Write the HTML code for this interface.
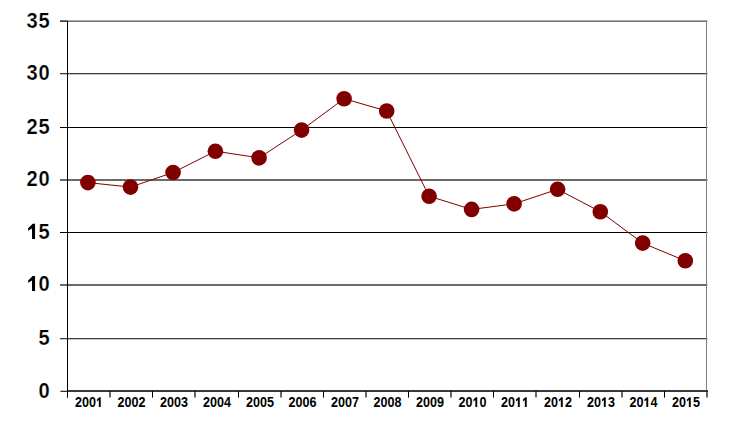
<!DOCTYPE html>
<html><head><meta charset="utf-8"><style>
html,body{margin:0;padding:0;background:#fff;}
body{width:735px;height:425px;overflow:hidden;position:relative;}
svg{position:absolute;left:0;top:0;}
text{font-family:"Liberation Sans",sans-serif;font-weight:bold;fill:#000;}
.yl{font-size:21.9px;stroke:#fff;stroke-width:0.25px;}
.xl{font-size:14px;}
.g1{fill:#000;}
</style></head><body>
<svg width="735" height="425" viewBox="0 0 735 425">
<rect x="60" y="73" width="646" height="1" fill="#3c3c3c"/>
<rect x="707" y="73" width="1" height="1" fill="#b1b1b1"/>
<rect x="60" y="74" width="646" height="1" fill="#c8c8c8"/>
<rect x="707" y="74" width="1" height="1" fill="#e9e9e9"/>
<rect x="60" y="127" width="646" height="1" fill="#000000"/>
<rect x="707" y="127" width="1" height="1" fill="#999999"/>
<rect x="60" y="179" width="646" height="1" fill="#6a6a6a"/>
<rect x="707" y="179" width="1" height="1" fill="#c4c4c4"/>
<rect x="60" y="180" width="646" height="1" fill="#6a6a6a"/>
<rect x="707" y="180" width="1" height="1" fill="#c4c4c4"/>
<rect x="60" y="232" width="646" height="1" fill="#000000"/>
<rect x="707" y="232" width="1" height="1" fill="#999999"/>
<rect x="60" y="284" width="646" height="1" fill="#6a6a6a"/>
<rect x="707" y="284" width="1" height="1" fill="#c4c4c4"/>
<rect x="60" y="285" width="646" height="1" fill="#6a6a6a"/>
<rect x="707" y="285" width="1" height="1" fill="#c4c4c4"/>
<rect x="60" y="338" width="646" height="1" fill="#3c3c3c"/>
<rect x="707" y="338" width="1" height="1" fill="#b1b1b1"/>
<rect x="60" y="339" width="646" height="1" fill="#c8c8c8"/>
<rect x="707" y="339" width="1" height="1" fill="#e9e9e9"/>
<rect x="60" y="20" width="7.5" height="1" fill="#787878"/>
<rect x="60" y="21" width="7.5" height="1" fill="#3c3c3c"/>
<rect x="67.5" y="20" width="639.5" height="1" fill="#a8a8a8"/>
<rect x="67.5" y="21" width="639.5" height="1" fill="#787878"/>
<rect x="707" y="20" width="1" height="2" fill="#d7d7d7"/>
<rect x="706" y="22" width="1" height="369.0" fill="#808080"/>
<rect x="67" y="390" width="640.8" height="2" fill="#383838"/>
<rect x="60.4" y="390" width="6.6" height="1" fill="#bebebe"/>
<rect x="60.4" y="391" width="6.6" height="1" fill="#323232"/>
<line x1="110" y1="391.0" x2="110" y2="397.6" stroke="#000" stroke-width="1.17"/>
<line x1="152.5" y1="391.0" x2="152.5" y2="397.6" stroke="#000" stroke-width="1.0"/>
<line x1="195" y1="391.0" x2="195" y2="397.6" stroke="#000" stroke-width="1.17"/>
<line x1="238.5" y1="391.0" x2="238.5" y2="397.6" stroke="#000" stroke-width="1.0"/>
<line x1="281" y1="391.0" x2="281" y2="397.6" stroke="#000" stroke-width="1.17"/>
<line x1="323.5" y1="391.0" x2="323.5" y2="397.6" stroke="#000" stroke-width="1.0"/>
<line x1="366" y1="391.0" x2="366" y2="397.6" stroke="#000" stroke-width="1.17"/>
<line x1="408.5" y1="391.0" x2="408.5" y2="397.6" stroke="#000" stroke-width="1.0"/>
<line x1="451" y1="391.0" x2="451" y2="397.6" stroke="#000" stroke-width="1.17"/>
<line x1="493.5" y1="391.0" x2="493.5" y2="397.6" stroke="#000" stroke-width="1.0"/>
<line x1="536" y1="391.0" x2="536" y2="397.6" stroke="#000" stroke-width="1.17"/>
<line x1="579.5" y1="391.0" x2="579.5" y2="397.6" stroke="#000" stroke-width="1.0"/>
<line x1="622" y1="391.0" x2="622" y2="397.6" stroke="#000" stroke-width="1.17"/>
<line x1="664.5" y1="391.0" x2="664.5" y2="397.6" stroke="#000" stroke-width="1.0"/>
<line x1="707" y1="391.0" x2="707" y2="397.6" stroke="#000" stroke-width="1.17"/>
<line x1="67.5" y1="20.8" x2="67.5" y2="397.8" stroke="#000" stroke-width="1"/>
<path d="M87.9,182.6 L130.5,187.1 L173.1,172.5 L215.4,151.2 L259.1,157.85 L301.6,130.1 L344.1,98.7 L386.7,111.0 L429.1,196.2 L471.6,209.4 L514.1,203.85 L557.6,189.3 L600.3,211.7 L642.7,243.1 L685.3,260.8" fill="none" stroke="#800000" stroke-width="1.0"/>
<circle cx="87.9" cy="182.6" r="7.8" fill="#800000"/>
<circle cx="130.5" cy="187.1" r="7.8" fill="#800000"/>
<circle cx="173.1" cy="172.5" r="7.8" fill="#800000"/>
<circle cx="215.4" cy="151.2" r="7.8" fill="#800000"/>
<circle cx="259.1" cy="157.85" r="7.8" fill="#800000"/>
<circle cx="301.6" cy="130.1" r="7.8" fill="#800000"/>
<circle cx="344.1" cy="98.7" r="7.8" fill="#800000"/>
<circle cx="386.7" cy="111.0" r="7.8" fill="#800000"/>
<circle cx="429.1" cy="196.2" r="7.8" fill="#800000"/>
<circle cx="471.6" cy="209.4" r="7.8" fill="#800000"/>
<circle cx="514.1" cy="203.85" r="7.8" fill="#800000"/>
<circle cx="557.6" cy="189.3" r="7.8" fill="#800000"/>
<circle cx="600.3" cy="211.7" r="7.8" fill="#800000"/>
<circle cx="642.7" cy="243.1" r="7.8" fill="#800000"/>
<circle cx="685.3" cy="260.8" r="7.8" fill="#800000"/>
<text transform="translate(49.70,27.91) scale(0.917,1)" x="-25.232 -12.180" class="yl">35</text>
<text transform="translate(49.70,79.94) scale(0.917,1)" x="-25.232 -12.180" class="yl">30</text>
<text transform="translate(49.70,133.89) scale(0.917,1)" x="-25.232 -12.180" class="yl">25</text>
<text transform="translate(49.70,186.04) scale(0.917,1)" x="-25.232 -12.180" class="yl">20</text>
<text transform="translate(49.70,238.94) scale(0.917,1)" x="-25.232 -12.180" class="yl"> 5</text>
<path class="g1" transform="translate(49.70,238.94) scale(0.917,1) translate(-25.232,0) scale(0.010693,-0.010693)" d="M556,0 L867,0 L867,1409 L620,1409 L160,995 L160,771 L556,980 Z"/>
<text transform="translate(49.70,291.04) scale(0.917,1)" x="-25.232 -12.180" class="yl"> 0</text>
<path class="g1" transform="translate(49.70,291.04) scale(0.917,1) translate(-25.232,0) scale(0.010693,-0.010693)" d="M556,0 L867,0 L867,1409 L620,1409 L160,995 L160,771 L556,980 Z"/>
<text transform="translate(49.70,344.84) scale(0.917,1)" x="-12.180" class="yl">5</text>
<text transform="translate(49.70,398.10) scale(0.917,1)" x="-12.180" class="yl">0</text>
<text transform="translate(88.90,407.00) scale(0.899,1)" x="-15.572 -7.786 0.000 7.786" class="xl">200 </text>
<path class="g1" transform="translate(88.90,407.00) scale(0.899,1) translate(7.786,0) scale(0.006836,-0.006836)" d="M476,0 L787,0 L787,1409 L560,1409 L170,1080 L170,820 L476,1010 Z"/>
<text transform="translate(131.40,407.00) scale(0.899,1)" x="-15.572 -7.786 0.000 7.786" class="xl">2002</text>
<text transform="translate(173.90,407.00) scale(0.899,1)" x="-15.572 -7.786 0.000 7.786" class="xl">2003</text>
<text transform="translate(216.90,407.00) scale(0.899,1)" x="-15.572 -7.786 0.000 7.786" class="xl">2004</text>
<text transform="translate(259.90,407.00) scale(0.899,1)" x="-15.572 -7.786 0.000 7.786" class="xl">2005</text>
<text transform="translate(302.40,407.00) scale(0.899,1)" x="-15.572 -7.786 0.000 7.786" class="xl">2006</text>
<text transform="translate(344.90,407.00) scale(0.899,1)" x="-15.572 -7.786 0.000 7.786" class="xl">2007</text>
<text transform="translate(387.40,407.00) scale(0.899,1)" x="-15.572 -7.786 0.000 7.786" class="xl">2008</text>
<text transform="translate(429.90,407.00) scale(0.899,1)" x="-15.572 -7.786 0.000 7.786" class="xl">2009</text>
<text transform="translate(472.40,407.00) scale(0.899,1)" x="-15.572 -7.786 0.000 7.786" class="xl">20 0</text>
<path class="g1" transform="translate(472.40,407.00) scale(0.899,1) translate(0.000,0) scale(0.006836,-0.006836)" d="M476,0 L787,0 L787,1409 L560,1409 L170,1080 L170,820 L476,1010 Z"/>
<text transform="translate(514.90,407.00) scale(0.899,1)" x="-15.572 -7.786 0.000 7.786" class="xl">20  </text>
<path class="g1" transform="translate(514.90,407.00) scale(0.899,1) translate(0.000,0) scale(0.006836,-0.006836)" d="M476,0 L787,0 L787,1409 L560,1409 L170,1080 L170,820 L476,1010 Z"/>
<path class="g1" transform="translate(514.90,407.00) scale(0.899,1) translate(7.786,0) scale(0.006836,-0.006836)" d="M476,0 L787,0 L787,1409 L560,1409 L170,1080 L170,820 L476,1010 Z"/>
<text transform="translate(557.90,407.00) scale(0.899,1)" x="-15.572 -7.786 0.000 7.786" class="xl">20 2</text>
<path class="g1" transform="translate(557.90,407.00) scale(0.899,1) translate(0.000,0) scale(0.006836,-0.006836)" d="M476,0 L787,0 L787,1409 L560,1409 L170,1080 L170,820 L476,1010 Z"/>
<text transform="translate(600.90,407.00) scale(0.899,1)" x="-15.572 -7.786 0.000 7.786" class="xl">20 3</text>
<path class="g1" transform="translate(600.90,407.00) scale(0.899,1) translate(0.000,0) scale(0.006836,-0.006836)" d="M476,0 L787,0 L787,1409 L560,1409 L170,1080 L170,820 L476,1010 Z"/>
<text transform="translate(643.40,407.00) scale(0.899,1)" x="-15.572 -7.786 0.000 7.786" class="xl">20 4</text>
<path class="g1" transform="translate(643.40,407.00) scale(0.899,1) translate(0.000,0) scale(0.006836,-0.006836)" d="M476,0 L787,0 L787,1409 L560,1409 L170,1080 L170,820 L476,1010 Z"/>
<text transform="translate(685.90,407.00) scale(0.899,1)" x="-15.572 -7.786 0.000 7.786" class="xl">20 5</text>
<path class="g1" transform="translate(685.90,407.00) scale(0.899,1) translate(0.000,0) scale(0.006836,-0.006836)" d="M476,0 L787,0 L787,1409 L560,1409 L170,1080 L170,820 L476,1010 Z"/>
</svg>
</body></html>
